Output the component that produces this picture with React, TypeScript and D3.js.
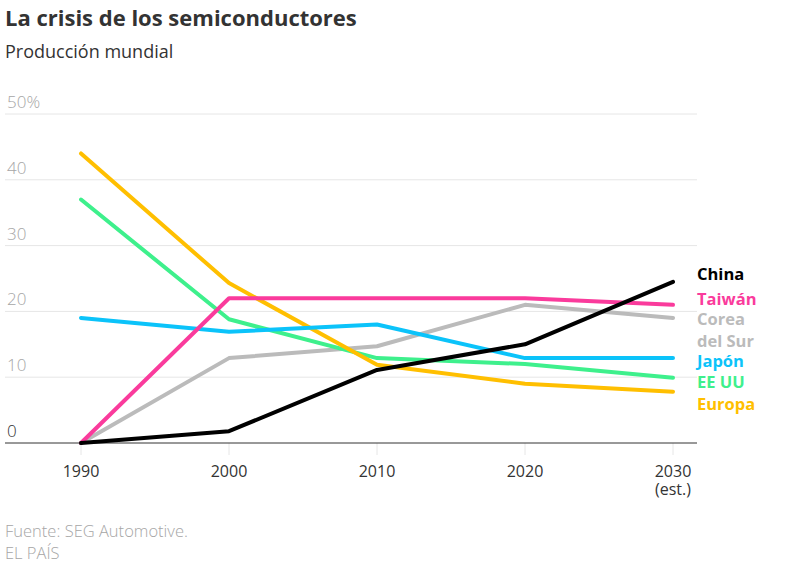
import React, { useEffect, useRef } from "react";
import * as d3 from "d3";

const years = [1990, 2000, 2010, 2020, 2030];
const yTicks = [0, 10, 20, 30, 40, 50];

const china = [0, 1.8, 11.1, 15, 24.5];
const taiwan = [0, 22, 22, 22, 21];
const corea = [0, 12.9, 14.7, 21, 19];
const japon = [19, 16.9, 18, 12.9, 12.9];
const eeuu = [37, 18.8, 12.9, 12, 9.9];
const europa = [44, 24.3, 11.9, 9, 7.8];

const series = [
  { name: "Corea del Sur", values: corea, color: "#bbbbbb" },
  { name: "EE UU", values: eeuu, color: "#3ef08c" },
  { name: "Europa", values: europa, color: "#ffbf00" },
  { name: "Japón", values: japon, color: "#0bc3fa" },
  { name: "Taiwán", values: taiwan, color: "#fa3b9c" },
  { name: "China", values: china, color: "#000000" },
];

const labels = [
  { lines: ["China"], color: "#000000", y: 280 },
  { lines: ["Taiwán"], color: "#fa3b9c", y: 305 },
  { lines: ["Corea", "del Sur"], color: "#bbbbbb", y: 325 },
  { lines: ["Japón"], color: "#0bc3fa", y: 367 },
  { lines: ["EE UU"], color: "#3ef08c", y: 388 },
  { lines: ["Europa"], color: "#ffbf00", y: 410 },
];

const W = 800;
const H = 587;
const FONT = "'Open Sans', Roboto, sans-serif";

export default function App() {
  const svgRef = useRef<SVGSVGElement>(null);

  useEffect(() => {
    if (!svgRef.current) return;
    const svg = d3.select(svgRef.current);
    svg.selectAll("*").remove();

    const x = d3.scaleLinear().domain([1990, 2030]).range([81, 673]);
    const y = d3.scaleLinear().domain([0, 50]).range([443, 114]);
    const left = 5;
    const right = 697;

    // Title
    svg.append("text")
      .attr("x", 5).attr("y", 26)
      .style("font-family", FONT).style("font-size", "22px").style("font-weight", "700")
      .attr("fill", "#333").text("La crisis de los semiconductores");
    svg.append("text")
      .attr("x", 5).attr("y", 58)
      .style("font-family", FONT).style("font-size", "18px")
      .attr("fill", "#333").text("Producción mundial");

    // Gridlines + y labels
    yTicks.forEach((t) => {
      if (t > 0) {
        svg.append("line")
          .attr("x1", left).attr("x2", right)
          .attr("y1", y(t)).attr("y2", y(t))
          .attr("stroke", "#e6e6e6").attr("stroke-width", 1);
      }
      svg.append("text")
        .attr("x", 7).attr("y", y(t) - 6)
        .style("font-family", FONT).style("font-size", "17px").style("font-weight", "300")
        .attr("fill", t === 0 ? "#333" : "#a6a6a6")
        .text(t === 50 ? "50%" : String(t));
    });

    // x ticks
    years.forEach((yr) => {
      svg.append("line")
        .attr("x1", x(yr)).attr("x2", x(yr))
        .attr("y1", y(0)).attr("y2", y(0) + 12)
        .attr("stroke", "#e6e6e6").attr("stroke-width", 1);
      svg.append("text")
        .attr("x", x(yr)).attr("y", 477)
        .attr("text-anchor", "middle")
        .style("font-family", FONT).style("font-size", "16px")
        .attr("fill", "#333").text(String(yr));
    });
    svg.append("text")
      .attr("x", x(2030)).attr("y", 495)
      .attr("text-anchor", "middle")
      .style("font-family", FONT).style("font-size", "16px")
      .attr("fill", "#333").text("(est.)");

    // baseline
    svg.append("line")
      .attr("x1", left).attr("x2", right)
      .attr("y1", y(0)).attr("y2", y(0))
      .attr("stroke", "#333").attr("stroke-width", 1);

    const line = d3.line<number>()
      .x((_, i) => x(years[i]))
      .y((d) => y(d));

    series.forEach((s) => {
      svg.append("path")
        .datum(s.values)
        .attr("d", line)
        .attr("fill", "none")
        .attr("stroke", s.color)
        .attr("stroke-width", 4)
        .attr("stroke-linejoin", "round")
        .attr("stroke-linecap", "round");
    });

    // labels
    labels.forEach((l) => {
      l.lines.forEach((ln, i) => {
        svg.append("text")
          .attr("x", 697).attr("y", l.y + i * 22)
          .style("font-family", FONT).style("font-size", "16.5px").style("font-weight", "700")
          .attr("fill", l.color).text(ln);
      });
    });

    // footer
    svg.append("text")
      .attr("x", 5).attr("y", 537)
      .style("font-family", FONT).style("font-size", "16.5px").style("font-weight", "300")
      .attr("fill", "#a6a6a6").text("Fuente: SEG Automotive.");
    svg.append("text")
      .attr("x", 5).attr("y", 559)
      .style("font-family", FONT).style("font-size", "16.5px").style("font-weight", "300")
      .attr("fill", "#a6a6a6").text("EL PAÍS");
  }, []);

  return (
    <svg
      ref={svgRef}
      width={W}
      height={H}
      style={{ position: "absolute", left: 0, top: 0, background: "#fff", display: "block" }}
    />
  );
}
